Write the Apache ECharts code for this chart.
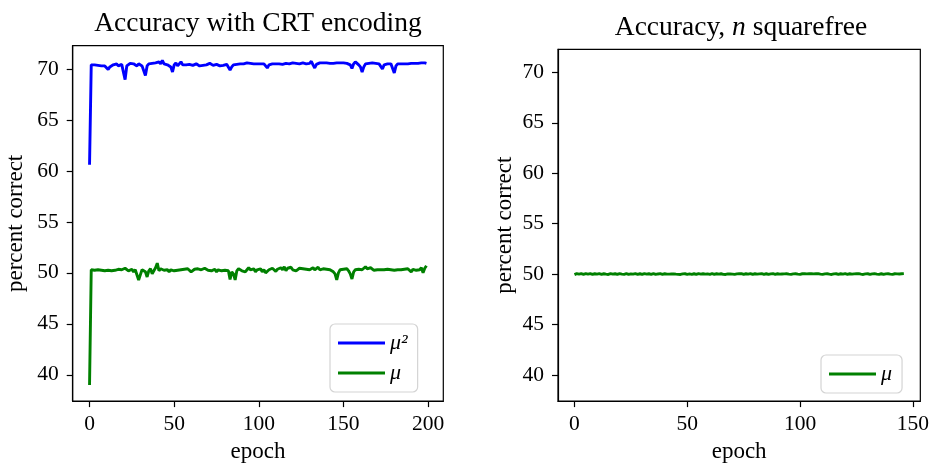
<!DOCTYPE html>
<html>
<head>
<meta charset="utf-8">
<script src="https://cdn.jsdelivr.net/npm/echarts@6/dist/echarts.min.js"></script>
<style>html,body{margin:0;padding:0;background:#fff}#c{width:932px;height:468px}</style>
</head>
<body>
<div id="c"></div>
<script>
// ---- data ----
const crtMuSquared = [
  60.6, 70.4, 70.35, 70.4, 70.3, 70.35, 70.4, 70.3, 70.35, 70.3,
  70.2, 69.95, 70.2, 70.3, 70.4, 70.35, 70.5, 70.3, 70.4, 70.45,
  70.3, 68.95, 70.3, 70.4, 70.55, 70.7, 70.5, 70.4, 70.3, 70.5,
  70.4, 70.3, 70.2, 69.35, 70.3, 70.5, 70.6, 70.55, 70.4, 70.6,
  70.5, 70.7, 70.5, 70.85, 70.5, 70.6, 70.4, 70.3, 70.2, 69.7,
  70.4, 70.6, 70.3, 70.5, 70.7, 70.4, 70.5, 70.4, 70.3, 70.45,
  70.5, 70.35, 70.4, 70.5, 70.45, 70.3, 70.2, 70.35, 70.5, 70.4,
  70.5, 70.55, 70.4, 70.35, 70.5, 70.45, 70.5, 70.3, 70.2, 70.35,
  70.5, 70.45, 70.3, 69.9, 70.2, 70.4, 70.5, 70.45, 70.55, 70.5,
  70.6, 70.5, 70.55, 70.6, 70.5, 70.55, 70.6, 70.5, 70.55, 70.5,
  70.6, 70.5, 70.45, 70.5, 70.4, 70.1, 70.4, 70.5, 70.5, 70.45,
  70.5, 70.55, 70.5, 70.5, 70.45, 70.5, 70.55, 70.5, 70.5, 70.55,
  70.6, 70.5, 70.55, 70.6, 70.5, 70.55, 70.6, 70.55, 70.5, 70.6,
  70.55, 70.75, 70.4, 70.1, 70.45, 70.5, 70.6, 70.55, 70.6, 70.55,
  70.6, 70.6, 70.55, 70.6, 70.55, 70.6, 70.6, 70.55, 70.6, 70.55,
  70.6, 70.5, 70.55, 70.6, 70.4, 70.05, 70.5, 70.7, 70.55, 70.4,
  70.2, 69.7, 70.2, 70.5, 70.6, 70.55, 70.5, 70.6, 70.5, 70.55,
  70.45, 70.5, 70.35, 70.0, 70.4, 70.55, 70.5, 70.6, 70.5, 70.4,
  69.6, 70.3, 70.5, 70.55, 70.5, 70.55, 70.5, 70.55, 70.5, 70.6,
  70.55, 70.5, 70.55, 70.6, 70.55, 70.5, 70.6, 70.55, 70.6, 70.55
];
const crtMu = [
  39.0, 50.3, 50.2, 50.25, 50.15, 50.3, 50.2, 50.25, 50.3, 50.2,
  50.35, 50.25, 50.3, 50.2, 50.3, 50.25, 50.2, 50.35, 50.4, 50.3,
  50.3, 50.45, 50.3, 50.2, 50.25, 50.35, 50.1, 50.3, 50.2, 49.3,
  49.8, 50.3, 50.4, 50.1, 49.6, 50.2, 50.4, 49.9, 50.2, 50.5,
  50.95, 50.2, 50.4, 50.3, 50.25, 50.4, 50.3, 50.1, 50.3, 50.35,
  50.2, 50.3, 50.25, 50.4, 50.3, 50.2, 50.35, 50.25, 50.4, 50.3,
  50.1, 50.2, 50.35, 50.3, 50.4, 50.25, 50.3, 50.2, 50.45, 50.3,
  50.25, 50.4, 50.2, 50.3, 50.35, 50.1, 50.3, 50.4, 50.2, 50.3,
  50.25, 50.35, 50.2, 49.35, 50.1, 49.9, 49.3, 50.2, 50.4, 50.3,
  50.2, 50.35, 50.1, 50.3, 50.5, 50.3, 50.2, 50.4, 50.1, 50.3,
  50.2, 50.4, 50.1, 50.3, 50.0, 49.9, 50.3, 50.2, 50.45, 50.3,
  50.15, 50.35, 50.2, 50.5, 50.3, 50.6, 50.2, 50.45, 50.3, 50.55,
  50.3, 50.4, 50.2, 50.35, 50.45, 50.3, 50.4, 50.25, 50.35, 50.4,
  50.3, 50.35, 50.5, 50.3, 50.4, 50.55, 50.3, 50.2, 50.4, 50.3,
  50.35, 50.25, 50.3, 50.2, 50.1, 49.9, 49.3, 50.0, 50.3, 50.25,
  50.35, 50.3, 50.4, 50.2, 49.9, 49.4, 50.1, 50.3, 50.4, 50.35,
  50.5, 50.3, 50.45, 50.6, 50.4, 50.3, 50.5, 50.35, 50.25, 50.4,
  50.3, 50.35, 50.3, 50.35, 50.3, 50.25, 50.35, 50.3, 50.3, 50.4,
  50.25, 50.3, 50.3, 50.35, 50.3, 50.25, 50.35, 50.3, 50.4, 50.3,
  50.1, 50.35, 50.3, 50.25, 50.4, 50.3, 50.5, 50.0, 50.45, 50.7
];
const squarefreeMu = [
  49.95, 50.05, 50.0, 50.05, 49.98, 50.05, 50.0, 50.05, 49.97, 50.04,
  50.0, 50.05, 49.98, 50.04, 50.0, 49.97, 50.05, 50.0, 50.04, 49.97,
  50.05, 50.0, 49.98, 50.05, 49.97, 50.03, 50.0, 50.05, 49.98, 50.04,
  49.97, 50.05, 50.0, 50.04, 49.98, 50.05, 49.97, 50.02, 50.05, 49.98,
  50.04, 50.0, 50.0, 50.02, 50.03, 50.0, 49.98, 49.97, 50.03, 50.04,
  49.98, 50.02, 49.98, 50.04, 49.97, 50.05, 50.0, 50.04, 50.0, 50.03,
  49.98, 50.05, 49.97, 50.04, 50.0, 50.04, 49.98, 49.97, 50.03, 50.02,
  50.0, 49.98, 50.03, 50.04, 50.05, 49.98, 50.04, 50.0, 50.05, 49.97,
  50.04, 50.0, 50.03, 50.05, 49.98, 50.04, 49.97, 50.03, 50.05, 49.98,
  50.04, 50.0, 50.02, 50.03, 50.04, 50.0, 49.98, 50.03, 50.04, 50.0,
  49.98, 50.04, 50.05, 50.03, 50.04, 50.04, 50.03, 50.04, 50.05, 50.0,
  49.98, 50.03, 50.04, 50.0, 49.97, 50.03, 50.04, 49.98, 50.04, 50.0,
  50.05, 49.98, 50.04, 50.0, 50.03, 50.04, 50.05, 50.0, 49.97, 50.03,
  50.04, 49.98, 50.03, 50.05, 50.0, 49.98, 50.04, 49.97, 50.03, 50.04,
  50.0, 49.98, 50.04, 50.03, 50.02, 50.04, 50.05
];
const yTicks = [40, 45, 50, 55, 60, 65, 70];
const xTicksLeft = [0, 50, 100, 150, 200];
const xTicksRight = [0, 50, 100, 150];
const titles = ['Accuracy with CRT encoding', 'Accuracy, {i|n} squarefree'];
const seriesNames = ['μ²', 'μ'];

// ---- chart ----
const FONT = 'Liberation Serif';
const pairs = arr => arr.map((v, i) => [i, v]);
const yMin = 37.42, yMax = 72.28;

function xAxis(grid, min, max, ticks) {
  return {
    type: 'value', gridIndex: grid, min: min, max: max,
    name: 'epoch', nameLocation: 'middle', nameGap: 38,
    nameTextStyle: { fontFamily: FONT, fontSize: 23, color: '#000' },
    axisLine: { show: true, onZero: false, lineStyle: { color: '#000', width: 1.2 } },
    axisTick: { show: true, inside: false, length: 6, lineStyle: { color: '#000', width: 1.2 }, customValues: ticks },
    axisLabel: { fontFamily: FONT, fontSize: 21.5, color: '#000', margin: 12, customValues: ticks },
    splitLine: { show: false }
  };
}
function yAxis(grid, gap) {
  return {
    type: 'value', gridIndex: grid, min: yMin, max: yMax,
    name: 'percent correct', nameLocation: 'middle', nameGap: gap,
    nameTextStyle: { fontFamily: FONT, fontSize: 23, color: '#000' },
    axisLine: { show: true, onZero: false, lineStyle: { color: '#000', width: 1.2 } },
    axisTick: { show: true, inside: false, length: 6, lineStyle: { color: '#000', width: 1.2 }, customValues: yTicks },
    axisLabel: { fontFamily: FONT, fontSize: 21.5, color: '#000', margin: 14, customValues: yTicks },
    splitLine: { show: false }
  };
}
const legendBase = {
  orient: 'vertical', icon: 'rect', itemWidth: 47, itemHeight: 3, itemGap: 8, itemTextGap: 14,
  backgroundColor: '#fff', borderColor: '#d4d4d4', borderWidth: 1.2, borderRadius: 5,
  padding: [8, 10, 8, 8],
  textStyle: { fontFamily: FONT, fontSize: 22, fontStyle: 'italic', color: '#000' },
  selectedMode: false
};
const chart = echarts.init(document.getElementById('c'), null, { renderer: 'canvas' });
chart.setOption({
  animation: false,
  backgroundColor: '#fff',
  graphic: [
    { type: 'text', x: 258, y: 24, style: { text: titles[0], fontFamily: FONT, fontSize: 27.5, fill: '#000', align: 'center', verticalAlign: 'middle' } },
    { type: 'text', x: 741, y: 27.5, style: { text: titles[1], fontFamily: FONT, fontSize: 27.5, fill: '#000', align: 'center', verticalAlign: 'middle',
      rich: { i: { fontFamily: FONT, fontSize: 27.5, fontStyle: 'italic', fill: '#000' } } } }
  ],
  grid: [
    { left: 72.7, top: 45.7, width: 370.6, height: 360.3, show: true, borderColor: '#000', borderWidth: 1.2, containLabel: false },
    { left: 558, top: 49.3, width: 366, height: 354, show: true, borderColor: '#000', borderWidth: 1.2, containLabel: false }
  ],
  xAxis: [ xAxis(0, -9.95, 208.95, xTicksLeft), xAxis(1, -7.3, 153.3, xTicksRight) ],
  yAxis: [ yAxis(0, 45), yAxis(1, 42) ],
  legend: [
    Object.assign({}, legendBase, { left: 330, top: 324, data: seriesNames }),
    Object.assign({}, legendBase, { left: 821, top: 355, data: [seriesNames[1]] })
  ],
  series: [
    { name: seriesNames[0], type: 'line', xAxisIndex: 0, yAxisIndex: 0, data: pairs(crtMuSquared), showSymbol: false, color: '#0000ff', lineStyle: { width: 2.9, color: '#0000ff' } },
    { name: seriesNames[1], type: 'line', xAxisIndex: 0, yAxisIndex: 0, data: pairs(crtMu), showSymbol: false, color: '#008000', lineStyle: { width: 2.9, color: '#008000' } },
    { name: seriesNames[1], type: 'line', xAxisIndex: 1, yAxisIndex: 1, data: pairs(squarefreeMu), showSymbol: false, color: '#008000', lineStyle: { width: 2.9, color: '#008000' } }
  ]
});
</script>
</body>
</html>
